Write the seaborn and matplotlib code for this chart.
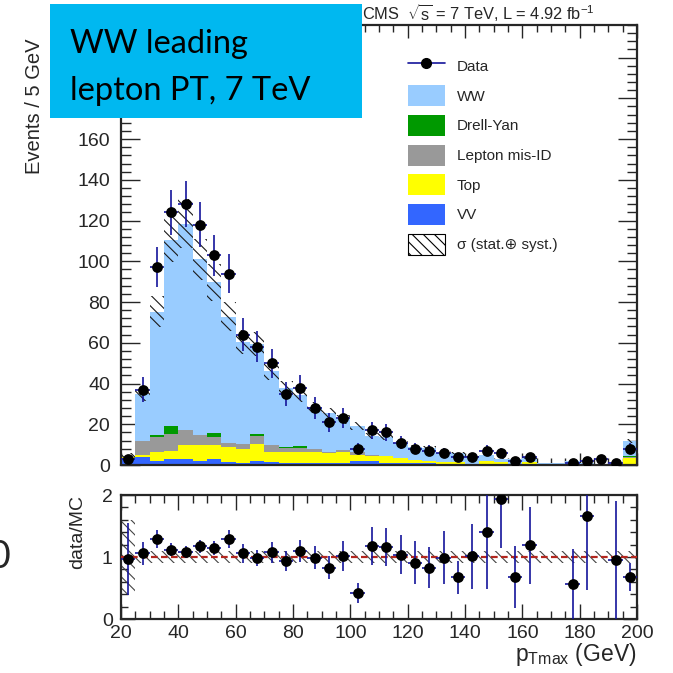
import numpy as np
import pandas as pd
import matplotlib
matplotlib.use("Agg")
import matplotlib.pyplot as plt
import seaborn as sns
from matplotlib.patches import Patch, Rectangle
from matplotlib.lines import Line2D
from matplotlib.ticker import MultipleLocator, FuncFormatter

# ---------------- data ----------------
bin_edges = np.arange(20, 205, 5)
bin_centers = bin_edges[:-1] + 2.5

data_counts = [3, 37, 97, 124, 128, 118, 103, 94, 64, 58, 50, 35, 38, 28, 21, 23, 8, 17,
               16, 11, 8, 7, 6, 4, 4, 7, 6, 2, 4, 0, 0, 1, 2, 3, 1, 8]
data_err = [1.7, 6.1, 9.8, 11.1, 11.3, 10.9, 10.1, 9.7, 8.0, 7.6, 7.1, 5.9, 6.2, 5.3, 4.6, 4.8, 2.8, 4.1,
            4.0, 3.3, 2.8, 2.6, 2.4, 2.0, 2.0, 2.6, 2.4, 1.4, 2.0, 0.0, 0.0, 1.0, 1.4, 1.7, 1.0, 2.8]

ww = [0.0, 23.0, 60.4, 91.4, 101.5, 86.4, 73.9, 61.9, 50.0, 43.8, 36.7, 28.6, 25.0, 20.5, 18.7, 15.2, 12.4, 9.5,
      9.4, 7.3, 6.3, 6.3, 4.5, 4.4, 3.3, 3.0, 1.5, 2.4, 2.0, 0.9, 0.9, 1.6, 1.1, 0.0, 1.0, 7.2]
drell_yan = [0.0, 0.0, 1.1, 4.0, 0.0, 0.0, 2.0, 0.0, 0.0, 1.0, 0.0, 0.8, 1.3, 0.0, 0.0, 0.0, 0.0, 0.0,
             0.0, 0.0, 0.0, 0.0, 0.0, 0.0, 0.0, 0.0, 0.0, 0.0, 0.0, 0.0, 0.0, 0.0, 0.0, 0.0, 0.0, 0.5]
mis_id = [0.0, 7.0, 7.4, 8.2, 7.1, 4.6, 3.8, 2.0, 2.5, 4.1, 3.3, 1.8, 1.9, 1.6, 0.8, 1.1, 1.7, 0.5,
          0.0, 0.0, 0.0, 0.0, 0.0, 0.0, 0.0, 0.0, 0.0, 0.0, 0.0, 0.0, 0.0, 0.0, 0.0, 0.0, 0.0, 0.8]
top = [0.5, 1.1, 4.2, 4.3, 6.8, 7.8, 7.1, 7.4, 6.7, 8.2, 5.0, 5.6, 5.1, 5.4, 5.0, 5.4, 2.9, 2.4,
       3.6, 2.5, 1.7, 1.3, 1.1, 1.3, 0.5, 1.7, 1.4, 0.4, 1.2, 0.0, 0.0, 0.0, 0.0, 0.0, 0.0, 3.0]
vv = [3.3, 3.8, 2.1, 2.8, 3.1, 2.1, 2.8, 1.6, 1.2, 2.1, 1.3, 0.8, 1.2, 0.8, 0.8, 0.8, 2.0, 2.0,
      0.8, 0.8, 0.8, 0.8, 0.5, 0.3, 0.2, 0.3, 0.2, 0.2, 0.2, 0.1, 0.1, 0.2, 0.1, 0.0, 0.05, 0.3]

syst_rel = [0.60, 0.10, 0.10, 0.10, 0.10, 0.10, 0.10, 0.10, 0.10, 0.10, 0.10, 0.10, 0.10, 0.10, 0.10, 0.10, 0.10, 0.10,
            0.10, 0.10, 0.10, 0.10, 0.10, 0.10, 0.10, 0.10, 0.10, 0.10, 0.10, 0.10, 0.10, 0.10, 0.10, 0.10, 0.10, 0.10]

ratio = [0.97, 1.06, 1.29, 1.12, 1.08, 1.17, 1.15, 1.29, 1.06, 0.98, 1.08, 0.93, 1.10, 0.99, 0.83, 1.02, 0.42, 1.18,
         1.16, 1.04, 0.91, 0.83, 0.99, 0.67, 1.01, 1.41, 1.94, 0.67, 1.19, np.nan, np.nan, 0.56, 1.66, np.nan, 0.95, 0.68]
ratio_err = [0.58, 0.19, 0.15, 0.11, 0.10, 0.11, 0.11, 0.15, 0.15, 0.13, 0.17, 0.16, 0.18, 0.19, 0.19, 0.24, 0.16, 0.31,
             0.31, 0.32, 0.35, 0.33, 0.43, 0.27, 0.52, 0.92, 0.80, 0.50, 0.62, np.nan, np.nan, 0.57, 1.19, np.nan, 0.95, 0.23]

processes = ["VV", "Top", "Lepton mis-ID", "Drell-Yan", "WW"]   # bottom -> top
colors = {"WW": "#99ccff", "Drell-Yan": "#009900", "Lepton mis-ID": "#999999",
          "Top": "#ffff00", "VV": "#3366ff"}
err_color = "#14149b"

# ---------------- style ----------------
sns.set_style("ticks")
plt.rcParams["font.family"] = ["Liberation Sans", "DejaVu Sans"]
plt.rcParams["mathtext.fontset"] = "custom"
plt.rcParams["mathtext.rm"] = "Liberation Sans"
plt.rcParams["mathtext.it"] = "Liberation Sans:italic"
plt.rcParams["hatch.linewidth"] = 0.8

fig = plt.figure(figsize=(6.73, 6.73), dpi=100)
W = H = 673.0
ax = fig.add_axes([121 / W, 1 - 465 / H, 516 / W, 440 / H])
axr = fig.add_axes([121 / W, 1 - 619 / H, 516 / W, 124 / H])

# ---------------- stacked MC (drawn as cumulative layers, top layer first) ----------------
series = {"WW": ww, "Drell-Yan": drell_yan, "Lepton mis-ID": mis_id, "Top": top, "VV": vv}
cum = np.zeros(len(bin_centers))
cumulative = {}
for p in processes:
    cum = cum + np.array(series[p])
    cumulative[p] = cum.copy()
for p in reversed(processes):
    layer = pd.DataFrame({"pt": bin_centers.astype(float), "events": cumulative[p]})
    sns.histplot(data=layer, x="pt", weights="events", binwidth=5, binrange=(20, 200),
                 element="step", fill=True, alpha=1, linewidth=0, color=colors[p], ax=ax)

mc_total = cumulative["WW"]
rel = np.array(syst_rel)
ax.bar(bin_centers, 2 * mc_total * rel, bottom=mc_total * (1 - rel), width=5,
       fill=False, edgecolor="#1a1a1a", linewidth=0, hatch="\\\\\\", zorder=3)

# data points
d = np.array(data_counts, dtype=float)
de = np.array(data_err)
m = d > 0
ax.errorbar(bin_centers[m], d[m], yerr=de[m], xerr=2.5, fmt="none",
            ecolor=err_color, elinewidth=1.2, capsize=0, zorder=4)
sns.scatterplot(x=bin_centers[m], y=d[m], color="black", edgecolor="black", s=60,
                linewidth=0, ax=ax, zorder=5, legend=False)

ax.set_xlim(20, 200)
ax.set_ylim(0, 216)
ax.set_xlabel("")
ax.set_ylabel("")
ax.xaxis.set_major_locator(MultipleLocator(20))
ax.xaxis.set_minor_locator(MultipleLocator(5))
ax.yaxis.set_major_locator(MultipleLocator(20))
ax.yaxis.set_minor_locator(MultipleLocator(4))
# labels above 160 sit under the slide box in the reference
ax.yaxis.set_major_formatter(FuncFormatter(lambda v, pos: f"{v:.0f}" if v <= 160 else ""))
ax.tick_params(axis="both", which="both", direction="in", top=True, right=True, width=1.0)
ax.tick_params(axis="y", which="major", length=14, labelsize=14, pad=8)
ax.tick_params(axis="y", which="minor", length=7)
ax.tick_params(axis="x", which="major", length=9, labelbottom=False)
ax.tick_params(axis="x", which="minor", length=5)
for s in ax.spines.values():
    s.set_linewidth(1.6)
    s.set_visible(True)

# legend
handles = [
    Line2D([0], [0], color=err_color, lw=1.2, marker="o", mfc="black", mec="black", ms=7),
    Patch(facecolor=colors["WW"], edgecolor="none"),
    Patch(facecolor=colors["Drell-Yan"], edgecolor="none"),
    Patch(facecolor=colors["Lepton mis-ID"], edgecolor="none"),
    Patch(facecolor=colors["Top"], edgecolor="none"),
    Patch(facecolor=colors["VV"], edgecolor="none"),
    Patch(facecolor="white", edgecolor="black", hatch="\\\\\\", linewidth=0.8),
]
labels = ["Data", "WW", "Drell-Yan", "Lepton mis-ID", "Top", "VV", "σ (stat.⊕ syst.)"]
ax.legend(handles, labels, loc="upper left", bbox_to_anchor=(0.556, 0.931), frameon=False,
          fontsize=11, handlelength=2.4, handleheight=1.74, labelspacing=0.57,
          handletextpad=0.8, borderpad=0, borderaxespad=0)

# ---------------- ratio ----------------
r = np.array(ratio)
re = np.array(ratio_err)
axr.bar(bin_centers, 2 * rel, bottom=1 - rel, width=5, fill=False,
        edgecolor="#444444", linewidth=0, hatch="\\\\\\", zorder=2)
axr.axhline(1.0, color="#b3261e", lw=1.6, ls=(0, (3, 1.5)), zorder=3)
mr = ~np.isnan(r)
axr.errorbar(bin_centers[mr], r[mr], yerr=re[mr], xerr=2.5, fmt="none",
             ecolor=err_color, elinewidth=1.2, capsize=0, zorder=4)
sns.scatterplot(x=bin_centers[mr], y=r[mr], color="black", edgecolor="black", s=60,
                linewidth=0, ax=axr, zorder=5, legend=False)
axr.set_xlim(20, 200)
axr.set_ylim(0, 2)
axr.set_xlabel("")
axr.set_ylabel("")
axr.xaxis.set_major_locator(MultipleLocator(20))
axr.xaxis.set_minor_locator(MultipleLocator(5))
axr.yaxis.set_major_locator(MultipleLocator(1))
axr.yaxis.set_minor_locator(MultipleLocator(0.2))
axr.tick_params(axis="both", which="both", direction="in", top=True, right=True, width=1.0)
axr.tick_params(axis="x", which="major", length=11, labelsize=14, pad=4)
axr.tick_params(axis="x", which="minor", length=6)
axr.tick_params(axis="y", which="major", length=10, labelsize=14, pad=6)
axr.tick_params(axis="y", which="minor", length=5)
for s in axr.spines.values():
    s.set_linewidth(1.6)
    s.set_visible(True)

# ---------------- texts ----------------
fig.text(35 / W, 1 - 38 / H, "Events / 5 GeV", rotation=90, ha="center", va="top", fontsize=14.5)
fig.text(78 / W, 1 - 532 / H, "data/MC", rotation=90, ha="center", va="center", fontsize=14)
fig.text(637 / W, 1 - 661 / H, r"p$_{\mathrm{Tmax}}$ (GeV)", ha="right", va="baseline", fontsize=16.5)
fig.text(362 / W, 1 - 20 / H, r"CMS  $\sqrt{\mathrm{s}}$ = 7 TeV, L = 4.92 fb$^{\mathrm{-1}}$",
         ha="left", va="baseline", fontsize=11.8)

# cyan slide box
fig.add_artist(Rectangle((50 / W, 1 - 118 / H), 312 / W, 114 / H, transform=fig.transFigure,
                         facecolor="#00b8f0", edgecolor="none", zorder=10))
fig.text(70 / W, 1 - 53 / H, "WW leading", fontsize=23.5, family="Lato", color="black",
         ha="left", va="baseline", zorder=11)
fig.text(70 / W, 1 - 100 / H, "lepton PT, 7 TeV", fontsize=23.5, family="Lato", color="black",
         ha="left", va="baseline", zorder=11)
fig.text(0, 1 - 557 / H, "0", fontsize=27, family="Lato", ha="center", va="center")

fig.savefig("out.png", dpi=100)
